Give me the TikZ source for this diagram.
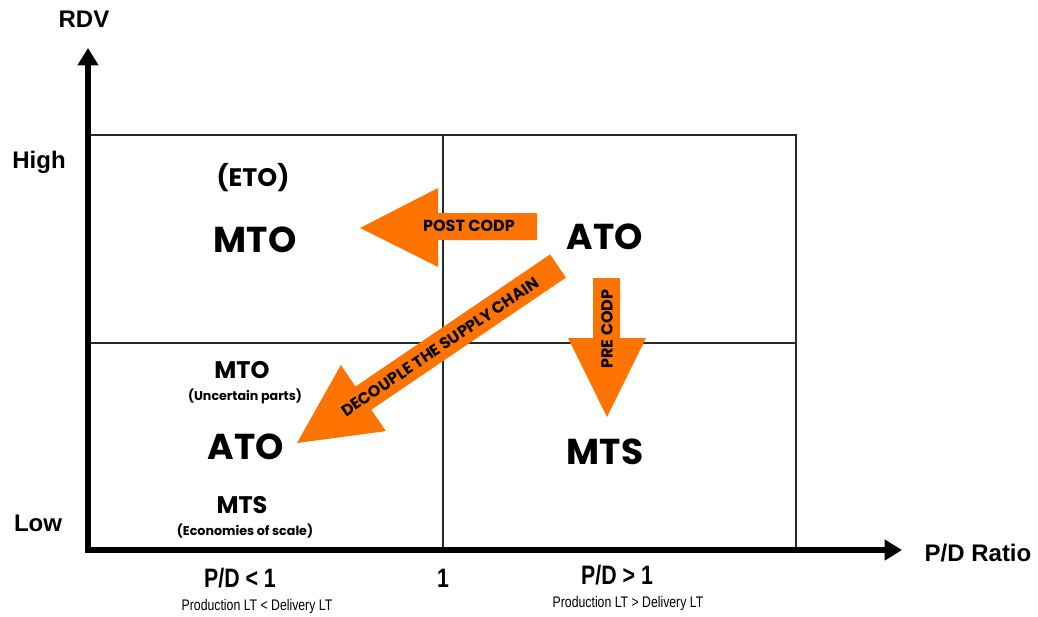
\documentclass[tikz,border=0pt]{standalone}
\usepackage{fontspec}
\usetikzlibrary{arrows.meta}
\newfontfamily\arialb{Liberation Sans}
\newfontfamily\narrowsans{Liberation Sans}[FakeStretch=0.8]
\newfontfamily\geo{Poppins}
\definecolor{codp}{RGB}{255,116,0}
\definecolor{gridc}{RGB}{40,40,40}
\tikzset{
  axislab/.style={font=\arialb\bfseries\fontsize{18}{20}\selectfont},
  bigcode/.style={font=\geo\bfseries\fontsize{27}{30}\selectfont},
  midcode/.style={font=\geo\bfseries\fontsize{18}{20}\selectfont},
  etocode/.style={font=\geo\bfseries\fontsize{19}{22}\selectfont},
  notetext/.style={font=\geo\bfseries\fontsize{9.5}{11}\selectfont},
  ticklab/.style={font=\narrowsans\bfseries\fontsize{20}{22}\selectfont},
  tickfine/.style={font=\narrowsans\fontsize{11.5}{13}\selectfont},
  arrowtext/.style={font=\geo\bfseries\fontsize{12}{13}\selectfont, text=black, inner sep=0pt},
  gridline/.style={draw=gridc, line width=1.1pt},
  axisline/.style={line width=4.5pt, -{Triangle[length=13pt,width=15pt]}},
  codpfill/.style={fill=codp}
}
\begin{document}
\begin{tikzpicture}[x=0.75pt,y=-0.75pt]
\path[use as bounding box] (0,0) rectangle (1038,617);

% quadrant grid
\draw[gridline] (90,135) rectangle (796,550);
\draw[gridline] (443,135) -- (443,550);
\draw[gridline] (90,343) -- (796,343);

% axes
\coordinate (origin) at (88,553);
\coordinate (ytip) at (88,48);
\coordinate (xstart) at (86,550);
\coordinate (xtip) at (902,550);
\draw[axisline] (origin) -- (ytip);
\draw[axisline] (xstart) -- (xtip);

% axis labels
\node[axislab] (rdv) at (84,19) {RDV};
\node[axislab] (high) at (39,162) {High};
\node[axislab] (low) at (38,523) {Low};
\node[axislab] (ratio) at (978,553) {P/D Ratio};

\node[ticklab] (lt) at (240,578) {P/D < 1};
\node[tickfine] (ltnote) at (257,607) {Production LT < Delivery LT};
\node[ticklab] (one) at (443,578) {1};
\node[ticklab] (gt) at (617,575) {P/D > 1};
\node[tickfine] (gtnote) at (628,604) {Production LT > Delivery LT};

% quadrant contents
\node[etocode] (eto) at (253,178) {(ETO)};
\node[bigcode] (mtohi) at (255,240) {MTO};
\node[bigcode] (atohi) at (605,237) {ATO};
\node[midcode] (mtolo) at (242,370) {MTO};
\node[notetext] (unc) at (245,396) {(Uncertain parts)};
\node[bigcode] (atolo) at (246,447) {ATO};
\node[midcode] (mtslo) at (242,505) {MTS};
\node[notetext] (eco) at (245,531) {(Economies of scale)};
\node[bigcode] (mtshi) at (605,452) {MTS};

% post CODP arrow (pointing left)
\fill[codpfill] (537,213) -- (438,213) -- (438,188) -- (360,228) -- (438,267)
  -- (438,240) -- (537,240) -- cycle;
\node[arrowtext] (post) at (469,226) {POST CODP};

% pre CODP arrow (pointing down)
\fill[codpfill] (593,278) -- (620,278) -- (620,338) -- (646,338) -- (607,417)
  -- (568,338) -- (593,338) -- cycle;
\node[arrowtext, rotate=90] (pre) at (607,329) {PRE CODP};

% diagonal decoupling arrow
\fill[codpfill] (550.1,254.4) -- (565.9,277.6) -- (371.3,409.7) -- (385.9,431.1)
  -- (297,443) -- (340.9,365.0) -- (355.5,386.5) -- cycle;
\node[arrowtext, rotate=34.1] (dec) at (440,347) {DECOUPLE THE SUPPLY CHAIN};
\end{tikzpicture}
\end{document}
